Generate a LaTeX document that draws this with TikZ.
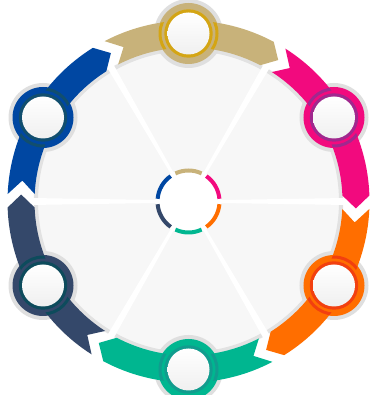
\documentclass[tikz,border=0pt]{standalone}
\definecolor{tanc}{HTML}{C8B27A}
\definecolor{tanr}{HTML}{D4A514}
\definecolor{pinkc}{HTML}{F20A7E}
\definecolor{pinkr}{HTML}{A0288E}
\definecolor{orgc}{HTML}{FF6E00}
\definecolor{orgr}{HTML}{F2400F}
\definecolor{grnc}{HTML}{00B690}
\definecolor{grnr}{HTML}{119C8E}
\definecolor{navc}{HTML}{34486A}
\definecolor{navr}{HTML}{0D4B5C}
\definecolor{bluc}{HTML}{0047A2}
\definecolor{blur}{HTML}{114E6E}
\definecolor{diskc}{HTML}{F7F7F7}
\definecolor{shadc}{HTML}{E2E2E2}
\definecolor{haloc}{HTML}{DFDFDF}
\tikzset{
  divider/.style={fill=white},
  centerarc/.style={line width=4pt},
}
\begin{document}
\begin{tikzpicture}[x=1pt,y=1pt]
\useasboundingbox (0,0) rectangle (374,395);
\begin{scope}[shift={(188.5,193.5)}]
  % inner disk
  \fill[diskc] (0,0) circle (155);
  \draw[shadc, line width=4pt] (0,0) circle (152.5);
  \foreach \b in {0,60,...,300}
    \fill[divider, rotate=\b] (0,-1) -- (158,-3.5) -- (158,3.5) -- (0,1) -- cycle;
  % halos
  \foreach \c in {90,30,-30,-90,-150,150}
    \fill[haloc] (\c:168) circle (34.5);
  % band segments (chevrons, clockwise)
  \foreach \c/\col in {90/tanc,30/pinkc,-30/orgc,-90/grnc,-150/navc,150/bluc}
    \fill[\col] ({\c+30-2.37}:181) arc[start angle={\c+30-2.37}, end angle={\c-30+1.9}, radius=181]
      -- ({\c-30-2.39}:167.5) -- ({\c-30+2.23}:154)
      arc[start angle={\c-30+2.23}, end angle={\c+30-2.79}, radius=154]
      -- ({\c+30-7.18}:167.5) -- cycle;
  % badges
  \foreach \c/\col/\ring in {90/tanc/tanr,30/pinkc/pinkr,-30/orgc/orgr,-90/grnc/grnr,-150/navc/navr,150/bluc/blur}{
    \fill[\col] (\c:168) circle (30.5);
    \begin{scope}[even odd rule]
      \clip (0,0) circle (181) (0,0) circle (154);
      \draw[\ring, line width=3pt] (\c:168) circle (28.5);
    \end{scope}
    \fill[\ring] (\c:168) circle (24.2);
    \shade[top color=white, bottom color=gray!12] (\c:168) circle (21);
  }
  % center
  \fill[white] (0,0) circle (33);
  \foreach \c/\col in {90/tanc,30/pinkc,-30/orgc,-90/grnc,-150/navc,150/bluc}
    \draw[\col, centerarc] ({\c+25}:31) arc[start angle={\c+25}, end angle={\c-25}, radius=31];
\end{scope}
\end{tikzpicture}
\end{document}
